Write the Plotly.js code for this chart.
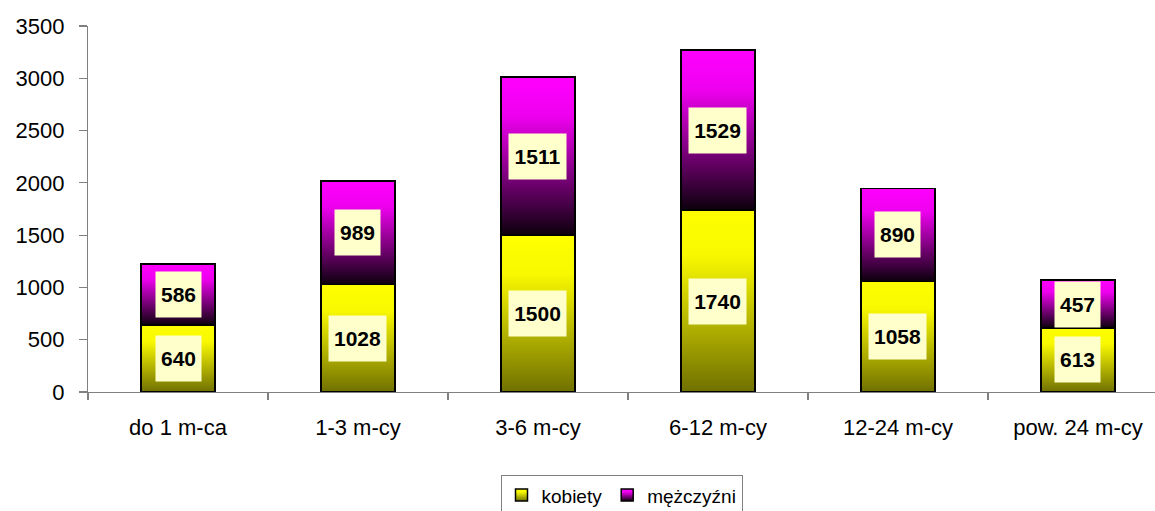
<!DOCTYPE html>
<html>
<head>
<meta charset="utf-8">
<script src="https://cdn.plot.ly/plotly-3.0.1.min.js"></script>
<style>
html,body{margin:0;padding:0;background:#fff;}
#chart{width:1155px;height:511px;}
</style>
</head>
<body>
<div id="chart"></div>
<script>
const categories = ['do 1 m-ca', '1-3 m-cy', '3-6 m-cy', '6-12 m-cy', '12-24 m-cy', 'pow. 24 m-cy'];
const kobiety = [640, 1028, 1500, 1740, 1058, 613];
const mezczyzni = [586, 989, 1511, 1529, 890, 457];
const seriesNames = ['kobiety', 'mężczyźni'];
const yTicks = [0, 500, 1000, 1500, 2000, 2500, 3000, 3500];

const FONT = '"Liberation Sans", Arial, sans-serif';

const traces = [
  {type: 'bar', name: seriesNames[0], x: categories, y: kobiety, width: 0.41,
   marker: {color: '#ffff00', line: {color: '#000', width: 1.5}}, hoverinfo: 'none'},
  {type: 'bar', name: seriesNames[1], x: categories, y: mezczyzni, width: 0.41,
   marker: {color: '#ff00ff', line: {color: '#000', width: 1.5}}, hoverinfo: 'none'}
];

const annotations = [];
categories.forEach((c, i) => {
  const pairs = [[kobiety[i], 0], [mezczyzni[i], kobiety[i]]];
  pairs.forEach(([v, base]) => {
    const s = String(v);
    annotations.push({
      x: c, y: base + v / 2, xref: 'x', yref: 'y', text: s, showarrow: false,
      font: {family: FONT, size: 21, color: '#000', weight: 'bold'},
      bgcolor: '#ffffcc', borderpad: 0, width: 12 * s.length + 9, height: 45,
      align: 'center', valign: 'middle'
    });
  });
});

const layout = {
  width: 1155, height: 511,
  margin: {l: 88, r: 0, t: 26, b: 119, autoexpand: false},
  paper_bgcolor: '#fff', plot_bgcolor: '#fff',
  barmode: 'stack',
  font: {family: FONT, size: 22, color: '#000'},
  xaxis: {
    type: 'category', range: [-0.5, 5.428], fixedrange: true, automargin: false,
    showline: true, linecolor: '#808080', linewidth: 1.2,
    ticks: 'outside', tickson: 'boundaries', ticklen: 7, tickcolor: '#808080', tickwidth: 1.2,
    showgrid: false, zeroline: false,
    tickfont: {family: FONT, size: 22, color: '#000'}, ticklabelstandoff: 15
  },
  yaxis: {
    range: [0, 3500], tickvals: yTicks, fixedrange: true, automargin: false,
    showline: true, linecolor: '#808080', linewidth: 1.2,
    ticks: 'outside', ticklen: 8, tickcolor: '#808080', tickwidth: 1.2,
    showgrid: false, zeroline: false,
    tickfont: {family: FONT, size: 22, color: '#000'}, ticklabelstandoff: 10
  },
  showlegend: true,
  legend: {
    orientation: 'h', x: 0.5, xanchor: 'center', yref: 'container', y: 0.07, yanchor: 'top',
    traceorder: 'normal', bgcolor: '#fff', bordercolor: '#808080', borderwidth: 1,
    font: {family: FONT, size: 19, color: '#000'}, itemclick: false, itemdoubleclick: false
  },
  annotations: annotations
};

function applyGradients(gd) {
  const NS = 'http://www.w3.org/2000/svg';
  const svg = gd.querySelector('.main-svg');
  let defs = svg.querySelector('defs');
  if (!defs) { defs = document.createElementNS(NS, 'defs'); svg.insertBefore(defs, svg.firstChild); }
  function mk(id, stops) {
    if (document.getElementById(id)) return;
    const g = document.createElementNS(NS, 'linearGradient');
    g.setAttribute('id', id);
    g.setAttribute('x1', '0'); g.setAttribute('y1', '0');
    g.setAttribute('x2', '0'); g.setAttribute('y2', '1');
    stops.forEach(([o, c]) => {
      const s = document.createElementNS(NS, 'stop');
      s.setAttribute('offset', o);
      s.setAttribute('stop-color', c);
      g.appendChild(s);
    });
    defs.appendChild(g);
  }
  mk('gradK', [[0, '#ffff00'], [0.25, '#f8f800'], [1, '#707000']]);
  mk('gradM', [[0, '#ff00ff'], [0.25, '#ee00ee'], [1, '#0c000c']]);
  const ids = ['url(#gradK)', 'url(#gradM)'];
  gd.querySelectorAll('.barlayer .trace').forEach((t, i) => {
    let idx = i;
    try { idx = t.__data__[0].trace.index; } catch (e) {}
    t.querySelectorAll('.point path').forEach(p => { p.style.fill = ids[idx]; });
  });
  gd.querySelectorAll('.legend .traces').forEach((t, i) => {
    let idx = i;
    try { idx = t.__data__[0].trace.index; } catch (e) {}
    t.querySelectorAll('.legendpoints path').forEach(p => {
      p.style.fill = ids[idx]; p.style.stroke = '#000'; p.style.strokeWidth = '1.5px';
    });
  });
}

Plotly.newPlot('chart', traces, layout, {displayModeBar: false, staticPlot: true}).then(applyGradients);
</script>
</body>
</html>
